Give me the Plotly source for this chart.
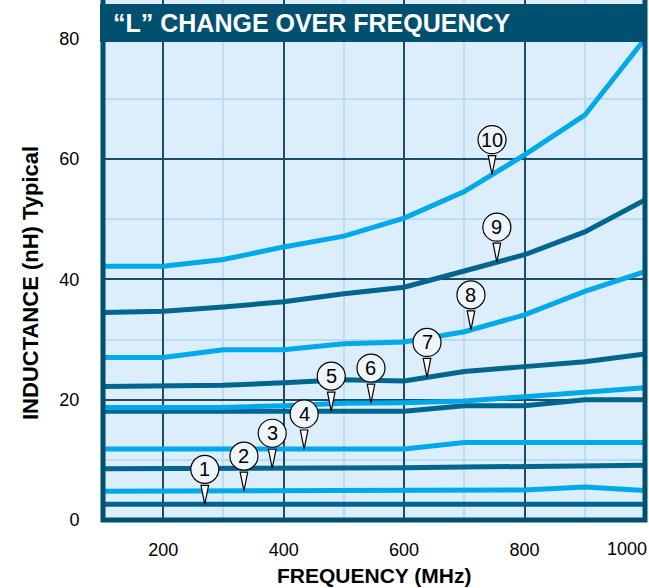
import numpy as np
import plotly.graph_objects as go

# ---------------- data ----------------
freq = [100, 200, 300, 400, 500, 600, 700, 800, 900, 1000]  # MHz

curve_1 = [2.6, 2.6, 2.6, 2.6, 2.6, 2.6, 2.8, 2.7, 2.6, 2.6]
curve_2 = [4.8, 4.8, 4.8, 4.8, 4.8, 4.8, 4.9, 5.0, 5.5, 4.9]
curve_3 = [8.5, 8.5, 8.6, 8.6, 8.6, 8.7, 8.8, 8.9, 9.0, 9.1]
curve_4 = [11.8, 11.8, 11.8, 11.8, 11.8, 11.8, 12.9, 12.9, 12.9, 12.9]
curve_5 = [18.1, 18.1, 18.1, 18.1, 18.1, 18.1, 19.0, 19.0, 20.0, 20.0]
curve_6 = [18.7, 18.7, 18.7, 19.0, 19.4, 19.5, 19.8, 20.5, 21.2, 22.0]
curve_7 = [22.2, 22.3, 22.4, 22.8, 23.3, 23.1, 24.7, 25.5, 26.3, 27.6]
curve_8 = [27.0, 27.0, 28.3, 28.3, 29.3, 29.6, 31.3, 34.1, 38.0, 41.3]
curve_9 = [34.5, 34.7, 35.4, 36.3, 37.6, 38.7, 41.4, 44.1, 47.9, 53.2]
curve_10 = [42.2, 42.2, 43.3, 45.4, 47.2, 50.2, 54.6, 60.7, 67.3, 80.0]

curves = [curve_1, curve_2, curve_3, curve_4, curve_5,
          curve_6, curve_7, curve_8, curve_9, curve_10]
curve_labels = ["1", "2", "3", "4", "5", "6", "7", "8", "9", "10"]
# frequency at which each numbered callout points onto its curve
callout_freq = [269, 334, 381, 434, 479, 545, 638, 711, 754, 746]

x_ticks = [200, 400, 600, 800]
x_last_tick = 1000
y_ticks = [0, 20, 40, 60, 80]

title_text = "“L” CHANGE OVER FREQUENCY"
x_title = "FREQUENCY (MHz)"
y_title = "INDUCTANCE (nH) Typical"

# ---------------- style ----------------
LIGHT = "#00A9EA"
DARK = "#00668F"
NAVY = "#02506F"
GRID_DARK = "#1E4C66"
GRID_LIGHT = "#BBDDF4"
BG = "#DCEEFB"
FONT = "Liberation Sans, Arial, sans-serif"

W, H = 649, 588
ML, MR, MT, MB = 103, 4, 0, 68
PW = W - ML - MR
PH = H - MT - MB

fig = go.Figure()

for i, c in enumerate(curves):
    fig.add_trace(go.Scatter(
        x=freq, y=c, mode="lines",
        line=dict(color=DARK if i % 2 == 0 else LIGHT, width=5),
        hoverinfo="skip", showlegend=False,
    ))

shapes = []
annotations = []

# callouts
for lab, fx, c in zip(curve_labels, callout_freq, curves):
    fy = float(np.interp(fx, freq, c))
    shapes.append(dict(
        type="path", xref="x", yref="y", xsizemode="pixel", ysizemode="pixel",
        xanchor=fx, yanchor=fy, path="M -3.8,19 L 3.8,19 L 0,0 Z",
        fillcolor="#F2F8FD", line=dict(color="black", width=1.2), layer="above",
    ))
    shapes.append(dict(
        type="circle", xref="x", yref="y", xsizemode="pixel", ysizemode="pixel",
        xanchor=fx, yanchor=fy, x0=-14, x1=14, y0=35 - 14, y1=35 + 14,
        fillcolor="#EEF6FC", line=dict(color="black", width=1.2), layer="above",
    ))
    annotations.append(dict(
        x=fx, y=fy, xref="x", yref="y", yshift=35, showarrow=False,
        text=lab, font=dict(family=FONT, size=20, color="black"),
        xanchor="center", yanchor="middle",
    ))


def px_to_paper_x(px):
    return (px - ML) / PW


def py_to_paper_y(py):
    return 1 - (py - MT) / PH


# title band
shapes.append(dict(
    type="rect", xref="paper", yref="paper",
    x0=px_to_paper_x(100), x1=px_to_paper_x(647),
    y0=py_to_paper_y(42), y1=py_to_paper_y(4),
    fillcolor=NAVY, line=dict(width=0), layer="above",
))
annotations.append(dict(
    x=px_to_paper_x(111), y=py_to_paper_y(23), xref="paper", yref="paper",
    xanchor="left", yanchor="middle", showarrow=False, text="<b>%s</b>" % title_text,
    font=dict(family=FONT, size=25, color="white"),
))

# frame (left, bottom, right)
shapes.append(dict(
    type="path", xref="paper", yref="paper",
    path="M 0,1.01 L 0,0 L 1,0 L 1,1.01",
    line=dict(color=NAVY, width=5), layer="above",
))

# last x tick label (sits flush with the right edge in the reference)
annotations.append(dict(
    x=x_last_tick, y=0, xref="x", yref="y", xshift=4, yshift=-29,
    xanchor="right", yanchor="middle", showarrow=False,
    text=str(x_last_tick), font=dict(family=FONT, size=18, color="black"),
))

# axis titles
annotations.append(dict(
    x=0.5, y=py_to_paper_y(575), xref="paper", yref="paper",
    xanchor="center", yanchor="middle", showarrow=False,
    text="<b>%s</b>" % x_title, font=dict(family=FONT, size=21, color="black"),
))
annotations.append(dict(
    x=px_to_paper_x(30), y=py_to_paper_y(283), xref="paper", yref="paper",
    xanchor="center", yanchor="middle", showarrow=False, textangle=-90,
    text="<b>%s</b>" % y_title, font=dict(family=FONT, size=22, color="black"),
))

fig.update_layout(
    width=W, height=H,
    margin=dict(l=ML, r=MR, t=MT, b=MB, pad=0),
    paper_bgcolor="white", plot_bgcolor=BG,
    shapes=shapes, annotations=annotations,
    font=dict(family=FONT, size=18, color="black"),
    xaxis=dict(
        range=[100, 1000], tickvals=x_ticks, ticktext=[str(v) for v in x_ticks],
        showgrid=True, gridcolor=GRID_DARK, gridwidth=1.5,
        ticks="outside", ticklen=13, tickcolor="rgba(0,0,0,0)",
        tickfont=dict(size=18), zeroline=False, showline=False,
        minor=dict(tickvals=[300, 500, 700, 900], showgrid=True,
                   gridcolor=GRID_LIGHT, gridwidth=1.5, ticks=""),
        fixedrange=True,
    ),
    yaxis=dict(
        range=[0, 86.45], tickvals=y_ticks, ticktext=[str(v) for v in y_ticks],
        showgrid=True, gridcolor=GRID_DARK, gridwidth=1.5,
        ticks="outside", ticklen=19, tickcolor="rgba(0,0,0,0)",
        tickfont=dict(size=18), zeroline=False, showline=False,
        minor=dict(tickvals=[10, 30, 50, 70], showgrid=True,
                   gridcolor=GRID_LIGHT, gridwidth=1.5, ticks=""),
        fixedrange=True,
    ),
)

fig.write_html(
    "out.html",
    config={"displayModeBar": False},
    post_script="document.body.style.margin='0px';document.body.style.overflow='hidden';",
)
